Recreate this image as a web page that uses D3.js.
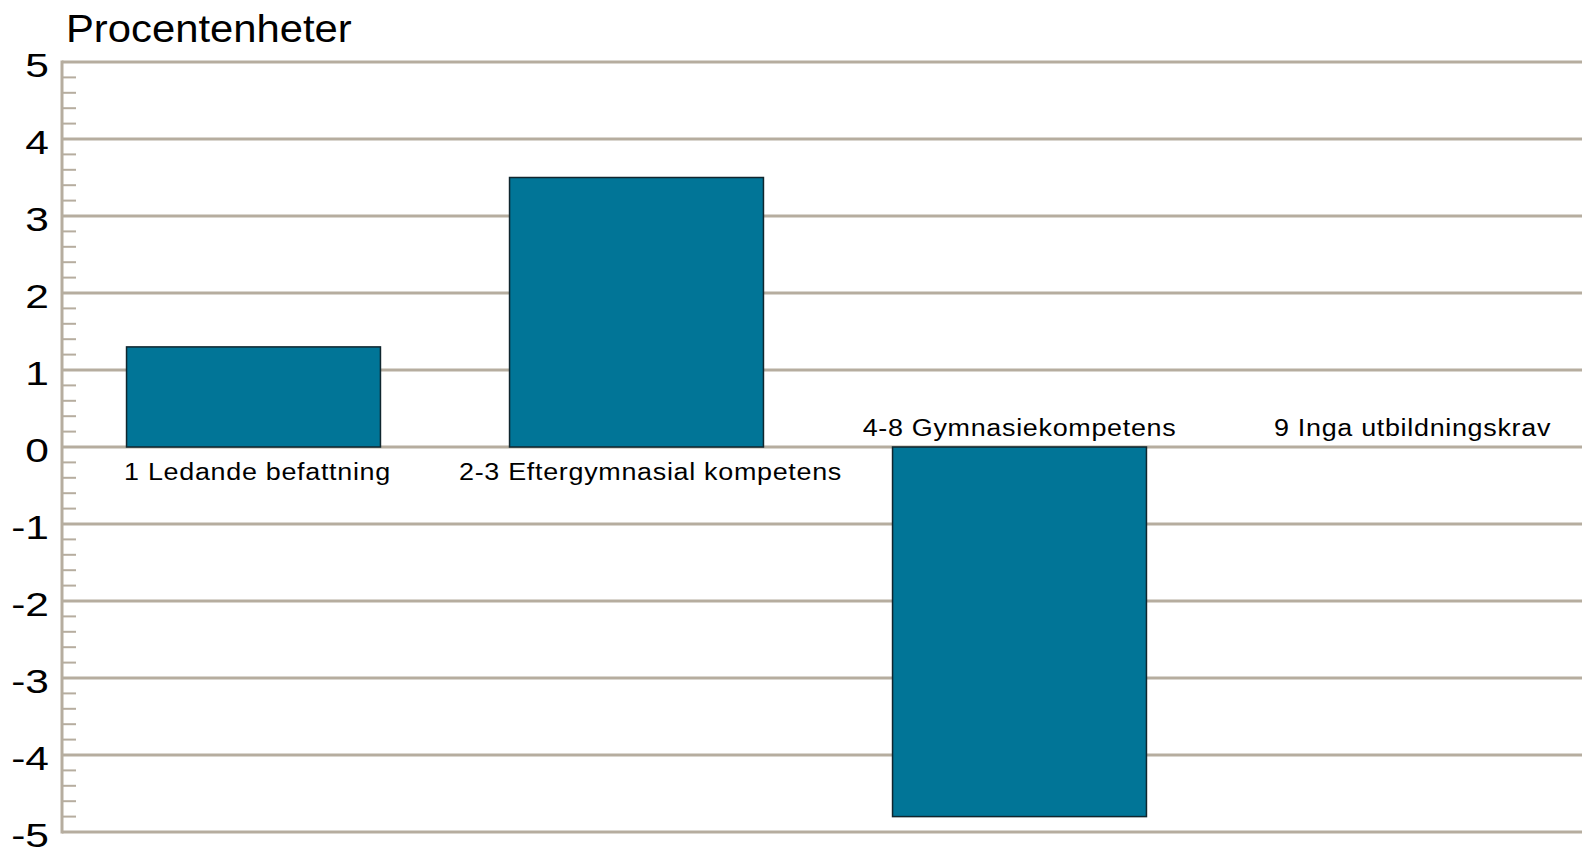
<!DOCTYPE html>
<html>
<head>
<meta charset="utf-8">
<script src="https://cdn.jsdelivr.net/npm/d3@7"></script>
<style>
  html, body { margin: 0; padding: 0; background: #fff; }
  svg { display: block; }
  text { font-family: "Liberation Sans", Arial, sans-serif; fill: #000; }
</style>
</head>
<body>
<svg id="chart" width="1582" height="849"></svg>
<script>
const categories = ["1 Ledande befattning", "2-3 Eftergymnasial kompetens", "4-8 Gymnasiekompetens", "9 Inga utbildningskrav"];
const values = [1.3, 3.5, -4.8, 0];
const yTicks = [5, 4, 3, 2, 1, 0, -1, -2, -3, -4, -5];
const yTitle = "Procentenheter";

// layout: small horizontal nudges of the category labels relative to bar centre
const labelNudge = [4, 14, 0, 10];

const svg = d3.select("#chart");
const W = 1582;
const left = 62;

const y = d3.scaleLinear().domain([-5, 5]).range([832, 62]);
const x = d3.scaleBand().domain(categories).range([left, 1594])
  .paddingInner(0.337).paddingOuter(0.1685);

const gridColor = "#b6ad9f";

// gridlines at major ticks
svg.append("g").selectAll("line").data(yTicks).join("line")
  .attr("x1", left).attr("x2", W)
  .attr("y1", d => y(d)).attr("y2", d => y(d))
  .attr("stroke", gridColor).attr("stroke-width", 3);

// minor ticks
const minor = d3.range(-50, 51, 2).map(d => d / 10).filter(d => Math.abs(d - Math.round(d)) > 1e-9);
svg.append("g").selectAll("line").data(minor).join("line")
  .attr("x1", left).attr("x2", left + 14)
  .attr("y1", d => y(d)).attr("y2", d => y(d))
  .attr("stroke", gridColor).attr("stroke-width", 2);

// axis line
svg.append("line")
  .attr("x1", left).attr("x2", left)
  .attr("y1", y(5) - 1.5).attr("y2", y(-5) + 1.5)
  .attr("stroke", gridColor).attr("stroke-width", 3);

// y tick labels
svg.append("g").selectAll("text").data(yTicks).join("text")
  .attr("transform", d => `translate(49,${y(d) + 14.5}) scale(1.25,1)`)
  .attr("text-anchor", "end")
  .style("font-size", "34px")
  .text(d => d);

// title
svg.append("text")
  .attr("transform", "translate(66,42) scale(1.1,1)")
  .style("font-size", "38px")
  .text(yTitle);

// bars
svg.append("g").selectAll("rect").data(values).join("rect")
  .attr("x", (d, i) => x(categories[i]))
  .attr("width", x.bandwidth())
  .attr("y", d => y(Math.max(0, d)))
  .attr("height", d => Math.abs(y(d) - y(0)))
  .attr("fill", "#017597")
  .attr("stroke", d => d === 0 ? "none" : "#10262e")
  .attr("stroke-width", 1.5);

// category labels
svg.append("g").selectAll("text").data(values).join("text")
  .attr("transform", (d, i) => {
    const cx = x(categories[i]) + x.bandwidth() / 2 + labelNudge[i];
    const by = d > 0 ? y(0) + 33 : y(0) - 11;
    return `translate(${cx},${by}) scale(1.17,1)`;
  })
  .attr("text-anchor", "middle")
  .style("font-size", "23px")
  .style("letter-spacing", "0.6px")
  .text((d, i) => categories[i]);
</script>
</body>
</html>
